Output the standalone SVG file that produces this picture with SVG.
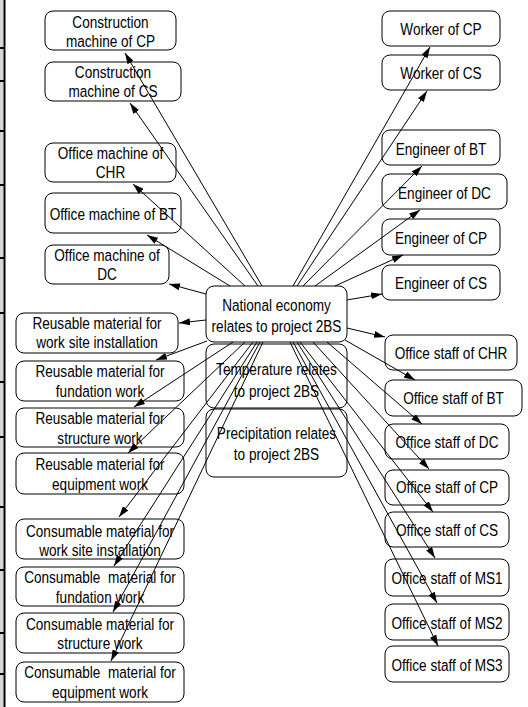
<svg xmlns="http://www.w3.org/2000/svg" width="528" height="707" viewBox="0 0 528 707">
<style>
.n{fill:#fff;stroke:#000;stroke-width:1}
.o{fill:none;stroke:#000;stroke-width:1}
.t{font-family:"Liberation Sans",Arial,sans-serif;font-size:17px;text-anchor:middle;fill:#000}
.p{white-space:pre}
.c line{stroke:#000;stroke-width:1;marker-end:url(#ah)}
.tk{stroke:#000;stroke-width:2}
</style>
<defs>
<marker id="ah" markerUnits="userSpaceOnUse" markerWidth="11" markerHeight="7" refX="11" refY="3.5" orient="auto">
<path d="M0,0 L11,3.5 L0,7 z" fill="#000"/>
</marker>
</defs>
<rect x="0" y="0" width="528" height="707" fill="#fff"/>
<g id="leftbar">
<rect x="0" y="0" width="3.5" height="707" fill="#d6d6d6"/>
<line class="tk" x1="4.5" y1="0" x2="4.5" y2="707"/>
<line class="tk" x1="0" y1="48" x2="4" y2="48"/>
<line class="tk" x1="0" y1="81" x2="4" y2="81"/>
<line class="tk" x1="0" y1="131" x2="4" y2="131"/>
<line class="tk" x1="0" y1="185" x2="4" y2="185"/>
<line class="tk" x1="0" y1="258" x2="4" y2="258"/>
<line class="tk" x1="0" y1="313" x2="4" y2="313"/>
<line class="tk" x1="0" y1="382" x2="4" y2="382"/>
<line class="tk" x1="0" y1="437" x2="4" y2="437"/>
<line class="tk" x1="0" y1="507" x2="4" y2="507"/>
<line class="tk" x1="0" y1="570" x2="4" y2="570"/>
<line class="tk" x1="0" y1="633" x2="4" y2="633"/>
<line class="tk" x1="0" y1="674" x2="4" y2="674"/>
</g>
<g id="cm_cp"><rect class="n" x="45" y="11" width="131" height="39" rx="8"/>
<text class="t" transform="translate(110.5,27.5) scale(0.8,1)">Construction</text>
<text class="t" transform="translate(110.5,46.5) scale(0.8,1)">machine of CP</text></g>
<g id="cm_cs"><rect class="n" x="45" y="62" width="136" height="39" rx="8"/>
<text class="t" transform="translate(113,78) scale(0.8,1)">Construction</text>
<text class="t" transform="translate(113,97) scale(0.8,1)">machine of CS</text></g>
<g id="om_chr"><rect class="n" x="45" y="143" width="131" height="39" rx="8"/>
<text class="t" transform="translate(110.5,159) scale(0.8,1)">Office machine of</text>
<text class="t" transform="translate(110.5,178) scale(0.8,1)">CHR</text></g>
<g id="om_bt"><rect class="n" x="45" y="193" width="136" height="40" rx="8"/>
<text class="t" transform="translate(113,220) scale(0.8,1)">Office machine of BT</text></g>
<g id="om_dc"><rect class="n" x="45" y="245" width="124" height="39" rx="8"/>
<text class="t" transform="translate(107,261) scale(0.8,1)">Office machine of</text>
<text class="t" transform="translate(107,280) scale(0.8,1)">DC</text></g>
<g id="rm_ws"><rect class="n" x="16" y="313" width="162" height="40" rx="8"/>
<text class="t" transform="translate(97,329) scale(0.8,1)">Reusable material for</text>
<text class="t" transform="translate(97,348) scale(0.8,1)">work site installation</text></g>
<g id="rm_fw"><rect class="n" x="16" y="361" width="168" height="40" rx="8"/>
<text class="t" transform="translate(100,377) scale(0.8,1)">Reusable material for</text>
<text class="t" transform="translate(100,397) scale(0.8,1)">fundation work</text></g>
<g id="rm_sw"><rect class="n" x="16" y="408" width="168" height="39" rx="8"/>
<text class="t" transform="translate(100,423.5) scale(0.8,1)">Reusable material for</text>
<text class="t" transform="translate(100,444) scale(0.8,1)">structure work</text></g>
<g id="rm_ew"><rect class="n" x="16" y="453" width="168" height="41" rx="8"/>
<text class="t" transform="translate(100,470) scale(0.8,1)">Reusable material for</text>
<text class="t" transform="translate(100,490) scale(0.8,1)">equipment work</text></g>
<g id="cmat_ws"><rect class="n" x="16" y="519" width="168" height="40" rx="8"/>
<text class="t" transform="translate(100,537) scale(0.8,1)">Consumable material for</text>
<text class="t" transform="translate(100,556) scale(0.8,1)">work site installation</text></g>
<g id="cmat_fw"><rect class="n" x="16" y="567" width="168" height="39" rx="8"/>
<text class="t p" transform="translate(100,583) scale(0.8,1)">Consumable  material for</text>
<text class="t" transform="translate(100,603) scale(0.8,1)">fundation work</text></g>
<g id="cmat_sw"><rect class="n" x="16" y="613" width="168" height="40" rx="8"/>
<text class="t" transform="translate(100,630) scale(0.8,1)">Consumable material for</text>
<text class="t" transform="translate(100,649) scale(0.8,1)">structure work</text></g>
<g id="cmat_ew"><rect class="n" x="16" y="662" width="168" height="40" rx="8"/>
<text class="t p" transform="translate(100,678) scale(0.8,1)">Consumable  material for</text>
<text class="t" transform="translate(100,698) scale(0.8,1)">equipment work</text></g>
<g id="w_cp"><rect class="n" x="382" y="11" width="118" height="35" rx="8"/>
<text class="t" transform="translate(441,35) scale(0.8,1)">Worker of CP</text></g>
<g id="w_cs"><rect class="n" x="382" y="55" width="118" height="35" rx="8"/>
<text class="t" transform="translate(441,79) scale(0.8,1)">Worker of CS</text></g>
<g id="e_bt"><rect class="n" x="382" y="130" width="118" height="35" rx="8"/>
<text class="t" transform="translate(441,154.5) scale(0.8,1)">Engineer of BT</text></g>
<g id="e_dc"><rect class="n" x="382" y="174" width="125" height="35" rx="8"/>
<text class="t" transform="translate(444.5,199) scale(0.8,1)">Engineer of DC</text></g>
<g id="e_cp"><rect class="n" x="382" y="219" width="118" height="36" rx="8"/>
<text class="t" transform="translate(441,244) scale(0.8,1)">Engineer of CP</text></g>
<g id="e_cs"><rect class="n" x="382" y="265" width="118" height="35" rx="8"/>
<text class="t" transform="translate(441,289) scale(0.8,1)">Engineer of CS</text></g>
<g id="os_chr"><rect class="n" x="385" y="335" width="132" height="35" rx="8"/>
<text class="t" transform="translate(451,359) scale(0.8,1)">Office staff of CHR</text></g>
<g id="os_bt"><rect class="n" x="385" y="380" width="137" height="36" rx="8"/>
<text class="t" transform="translate(453.5,404) scale(0.8,1)">Office staff of BT</text></g>
<g id="os_dc"><rect class="n" x="385" y="424" width="124" height="35" rx="8"/>
<text class="t" transform="translate(447,448) scale(0.8,1)">Office staff of DC</text></g>
<g id="os_cp"><rect class="n" x="385" y="470" width="124" height="35" rx="8"/>
<text class="t" transform="translate(447,493) scale(0.8,1)">Office staff of CP</text></g>
<g id="os_cs"><rect class="n" x="385" y="512" width="124" height="35" rx="8"/>
<text class="t" transform="translate(447,536) scale(0.8,1)">Office staff of CS</text></g>
<g id="os_ms1"><rect class="n" x="385" y="559" width="124" height="37" rx="8"/>
<text class="t" transform="translate(447,584) scale(0.8,1)">Office staff of MS1</text></g>
<g id="os_ms2"><rect class="n" x="385" y="604" width="124" height="36" rx="8"/>
<text class="t" transform="translate(447,629) scale(0.8,1)">Office staff of MS2</text></g>
<g id="os_ms3"><rect class="n" x="385" y="646" width="124" height="36" rx="8"/>
<text class="t" transform="translate(447,670.5) scale(0.8,1)">Office staff of MS3</text></g>
<g id="temperature"><rect class="o" x="206" y="344" width="141" height="64" rx="8"/>
<text class="t" transform="translate(276.5,375) scale(0.8,1)">Temperature relates</text>
<text class="t" transform="translate(276.5,397) scale(0.8,1)">to project 2BS</text></g>
<g id="precipitation"><rect class="o" x="206" y="409" width="141" height="68" rx="8"/>
<text class="t" transform="translate(276.5,439) scale(0.8,1)">Precipitation relates</text>
<text class="t" transform="translate(276.5,460) scale(0.8,1)">to project 2BS</text></g>
<g id="national"><rect class="n" x="206" y="286" width="141" height="56" rx="8"/>
<text class="t" transform="translate(276.5,311) scale(0.8,1)">National economy</text>
<text class="t" transform="translate(276.5,332) scale(0.8,1)">relates to project 2BS</text></g>
<g id="connectors" class="c">
<line x1="262" y1="286" x2="125" y2="53"/>
<line x1="258" y1="286" x2="130" y2="103"/>
<line x1="245" y1="286" x2="133" y2="184"/>
<line x1="230" y1="286" x2="147" y2="235"/>
<line x1="206" y1="294" x2="169" y2="284"/>
<line x1="206" y1="320" x2="179" y2="323"/>
<line x1="207" y1="341" x2="156" y2="360"/>
<line x1="233" y1="342" x2="134" y2="407"/>
<line x1="245" y1="342" x2="128" y2="453"/>
<line x1="253" y1="342" x2="119" y2="517"/>
<line x1="257" y1="342" x2="114" y2="566"/>
<line x1="260" y1="342" x2="113" y2="612"/>
<line x1="263" y1="342" x2="111" y2="661"/>
<line x1="293" y1="286" x2="430" y2="47"/>
<line x1="297" y1="286" x2="427" y2="91"/>
<line x1="303" y1="286" x2="422" y2="166"/>
<line x1="315" y1="286" x2="420" y2="210"/>
<line x1="335" y1="286" x2="403" y2="255"/>
<line x1="347" y1="300" x2="382" y2="294"/>
<line x1="347" y1="328" x2="385" y2="337"/>
<line x1="345" y1="340" x2="415" y2="380"/>
<line x1="327" y1="342" x2="422" y2="424"/>
<line x1="313" y1="342" x2="429" y2="469"/>
<line x1="300" y1="342" x2="433" y2="512"/>
<line x1="297" y1="342" x2="435" y2="558"/>
<line x1="293" y1="342" x2="437" y2="603"/>
<line x1="290" y1="342" x2="438" y2="646"/>
</g>
</svg>
